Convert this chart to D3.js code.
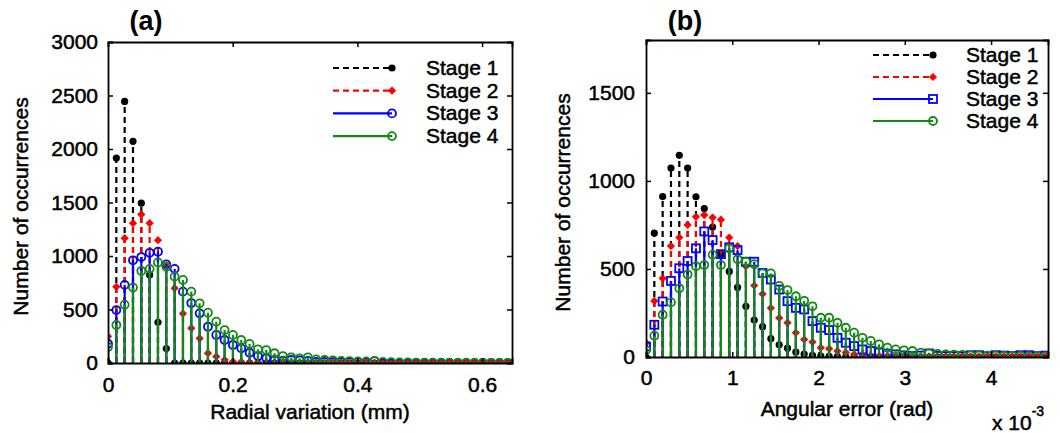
<!DOCTYPE html>
<html>
<head>
<meta charset="utf-8">
<script src="https://cdn.jsdelivr.net/npm/d3@7"></script>
<style>
body { margin: 0; background: #fff; }
text { font-family: Arial, "Liberation Sans", sans-serif; }
</style>
</head>
<body>
<svg width="1061" height="434"></svg>
<script>
// legend / series names
var stages = ["Stage 1", "Stage 2", "Stage 3", "Stage 4"];

// panel (a) : radial variation (mm), bin step
var radialStep = 0.01336;
var radialTicksX = [0, 0.2, 0.4, 0.6];
var radialTicksY = [0, 500, 1000, 1500, 2000, 2500, 3000];
var radialStage1 = [0,1916,2445,2072,1494,823,380,135,0,0,0,0,0,0,0,0,0,0,0,0,0,0,0,0,0,0,0,0,0,0,0,0,0,0,0,0,0,0,0,0,0,0,0,0,0,0,0,0,0];
var radialStage2 = [249,712,1166,1307,1388,1307,1148,905,699,462,325,229,92,60,30,12,10,6,5,4,3,3,3,2,2,2,2,2,1,1,1,1,1,1,1,1,1,1,1,1,1,1,1,1,1,1,1,1,1];
var radialStage3 = [180,495,730,960,990,1030,1040,922,880,667,560,464,339,262,215,168,137,96,65,44,28,22,30,25,20,10,10,8,8,8,8,5,18,0,0,0,0,0,0,0,0,0,0,0,0,0,0,0,0];
var radialStage4 = [150,355,545,705,860,880,940,900,807,776,667,558,470,386,308,262,215,178,128,121,91,65,53,44,53,34,28,25,20,18,15,15,20,10,8,5,5,4,4,3,3,3,2,2,2,2,2,1,1];

// panel (b) : angular error (x 10^-3 rad), bin step
var angularStep = 0.0965;
var angularTicksX = [0, 1, 2, 3, 4];
var angularTicksY = [0, 500, 1000, 1500];
var angularStage1 = [0,704,911,1073,1145,1073,910,843,738,584,486,395,288,210,172,104,69,50,28,17,9,5,3,2,1,0,0,0,0,0,0,0,0,0,0,0,0,0,0,0,0,0,0,0,0,0,0,0,0];
var angularStage2 = [80,318,447,630,678,750,796,806,792,780,678,630,515,406,358,278,222,195,138,100,85,53,47,34,25,15,10,8,6,5,4,4,3,3,3,2,2,2,2,1,1,1,1,1,1,1,1,1,1];
var angularStage3 = [60,183,315,432,504,545,617,713,664,584,623,607,541,541,477,440,383,317,279,270,204,166,153,109,81,62,43,34,25,19,15,9,6,8,20,6,5,5,4,10,10,4,10,8,6,10,10,5,8];
var angularStage4 = [40,121,240,310,390,468,515,522,580,522,617,555,541,527,475,475,404,380,345,319,288,223,223,194,166,138,109,91,72,53,43,38,34,25,21,18,15,14,12,10,10,8,8,7,6,6,5,5,5];

var svg = d3.select("svg");

var styles = [
    {color: "#000000", dash: "6,4", marker: "dot"},
    {color: "#ff0000", dash: "6,4", marker: "diamond"},
    {color: "#0000ff", dash: null, marker: "open"},
    {color: "#118a11", dash: null, marker: "circle"}
];

drawPanel({
    id: "a", title: "(a)", titleX: 146,
    left: 108, right: 512, top: 42, bottom: 363,
    xMax: 0.648, yMax: 3000, step: radialStep,
    ticksX: radialTicksX, ticksY: radialTicksY,
    fmtX: function (d) { return d == 0 ? "0" : d3.format(".1f")(d); },
    series: [radialStage1, radialStage2, radialStage3, radialStage4],
    blueShape: "circle",
    xLabel: "Radial variation (mm)", xLabelY: 419, yLabelX: 28, padY: 10, padX: 14,
    legend: {x0: 333, x1: 392, tx: 426, y: 68, dy: 22.7}
});

drawPanel({
    id: "b", title: "(b)", titleX: 685,
    left: 646, right: 1048, top: 40, bottom: 357,
    xMax: 4.66, yMax: 1800, step: angularStep,
    ticksX: angularTicksX, ticksY: angularTicksY,
    fmtX: d3.format("d"),
    series: [angularStage1, angularStage2, angularStage3, angularStage4],
    blueShape: "square",
    xLabel: "Angular error (rad)", xLabelY: 416, yLabelX: 570, padY: 11, padX: 13,
    legend: {x0: 873, x1: 933, tx: 966, y: 55, dy: 22}
});

// exponent label for panel (b)
var expo = svg.append("text").attr("x", 992).attr("y", 430).attr("font-size", 21)
    .attr("stroke", "#000").attr("stroke-width", 0.5);
expo.append("tspan").text("x 10");
expo.append("tspan").attr("dy", -14).attr("font-size", 14).text("-3");

function drawPanel(p) {
    var x = d3.scaleLinear().domain([0, p.xMax]).range([p.left, p.right]);
    var y = d3.scaleLinear().domain([0, p.yMax]).range([p.bottom, p.top]);
    var g = svg.append("g").attr("id", "panel" + p.id);

    g.append("clipPath").attr("id", "clip" + p.id)
        .append("rect").attr("x", p.left).attr("y", p.top)
        .attr("width", p.right - p.left).attr("height", p.bottom - p.top);

    var plot = g.append("g").attr("clip-path", "url(#clip" + p.id + ")");

    p.series.forEach(function (vals, s) {
        var st = styles[s];
        var sg = plot.append("g");
        sg.selectAll("line").data(vals).enter().append("line")
            .attr("x1", function (d, i) { return x(i * p.step); })
            .attr("x2", function (d, i) { return x(i * p.step); })
            .attr("y1", y(0))
            .attr("y2", function (d) { return y(d); })
            .attr("stroke", st.color).attr("stroke-width", 2.2)
            .attr("stroke-dasharray", st.dash);
        vals.forEach(function (d, i) {
            drawMarker(sg, s, x(i * p.step), y(d), p.blueShape);
        });
    });

    // axes, ticks inside like matlab
    var fmtNone = function () { return ""; };
    g.append("g").attr("transform", "translate(0," + p.bottom + ")")
        .call(d3.axisBottom(x).tickValues(p.ticksX).tickSize(-5).tickPadding(p.padX).tickFormat(p.fmtX));
    g.append("g").attr("transform", "translate(0," + p.top + ")")
        .call(d3.axisTop(x).tickValues(p.ticksX).tickSize(-5).tickFormat(fmtNone));
    g.append("g").attr("transform", "translate(" + p.left + ",0)")
        .call(d3.axisLeft(y).tickValues(p.ticksY).tickSize(-5).tickPadding(p.padY).tickFormat(d3.format("d")));
    g.append("g").attr("transform", "translate(" + p.right + ",0)")
        .call(d3.axisRight(y).tickValues(p.ticksY).tickSize(-5).tickFormat(fmtNone));
    g.selectAll(".domain").attr("stroke", "#000").attr("stroke-width", 1.8);
    g.selectAll(".tick line").attr("stroke", "#000").attr("stroke-width", 1.5);
    g.selectAll(".tick text").attr("font-size", 21).attr("font-family", "Arial, 'Liberation Sans', sans-serif")
        .attr("fill", "#000").attr("stroke", "#000").attr("stroke-width", 0.5);

    g.append("text").attr("x", (p.left + p.right) / 2).attr("y", p.xLabelY)
        .attr("text-anchor", "middle").attr("font-size", 21)
        .attr("stroke", "#000").attr("stroke-width", 0.5).text(p.xLabel);
    g.append("text").attr("transform", "translate(" + p.yLabelX + "," + ((p.top + p.bottom) / 2 + 4) + ") rotate(-90)")
        .attr("text-anchor", "middle").attr("font-size", 21)
        .attr("stroke", "#000").attr("stroke-width", 0.5).text("Number of occurrences");
    g.append("text").attr("x", p.titleX).attr("y", 30).attr("text-anchor", "middle")
        .attr("font-family", "'Liberation Serif', 'DejaVu Serif', serif").attr("font-weight", "bold")
        .attr("font-size", 27).text(p.title);

    // legend
    var L = p.legend;
    stages.forEach(function (name, s) {
        var ly = L.y + s * L.dy;
        g.append("line").attr("x1", L.x0).attr("x2", L.x1).attr("y1", ly).attr("y2", ly)
            .attr("stroke", styles[s].color).attr("stroke-width", 2.2)
            .attr("stroke-dasharray", styles[s].dash);
        drawMarker(g, s, L.x1, ly, p.blueShape);
        g.append("text").attr("x", L.tx).attr("y", ly + 7).attr("font-size", 21)
            .attr("stroke", "#000").attr("stroke-width", 0.5).text(name);
    });
}

function drawMarker(sel, s, cx, cy, blueShape) {
    var st = styles[s];
    if (st.marker == "dot") {
        sel.append("circle").attr("cx", cx).attr("cy", cy).attr("r", 3.6).attr("fill", st.color);
    } else if (st.marker == "diamond") {
        // square turned 45 degrees, like matlab 'd'
        sel.append("path").attr("d", d3.symbol().type(d3.symbolSquare).size(34)())
            .attr("transform", "translate(" + cx + "," + cy + ") rotate(45)").attr("fill", st.color);
    } else if (st.marker == "open" && blueShape == "square") {
        sel.append("rect").attr("x", cx - 4).attr("y", cy - 4).attr("width", 8).attr("height", 8)
            .attr("fill", "none").attr("stroke", st.color).attr("stroke-width", 1.8);
    } else {
        sel.append("circle").attr("cx", cx).attr("cy", cy).attr("r", 4)
            .attr("fill", "none").attr("stroke", st.color).attr("stroke-width", 1.8);
    }
}
</script>
</body>
</html>
